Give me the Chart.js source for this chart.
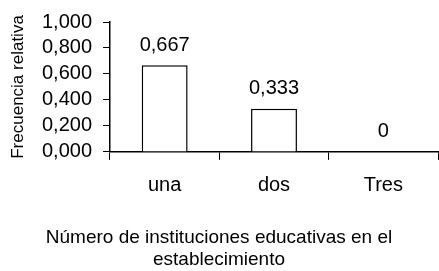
<!DOCTYPE html>
<html>
<head>
<meta charset="utf-8">
<script src="https://cdn.jsdelivr.net/npm/chart.js@4"></script>
<style>
  html, body { margin: 0; padding: 0; background: #fff; }
  #wrap { width: 439px; height: 271px; }
</style>
</head>
<body>
<div id="wrap"><canvas id="chart" width="439" height="271"></canvas></div>
<script>
// chart data
const categories = ["una", "dos", "Tres"];
const relFreq = [0.667, 0.333, 0];
const valueLabels = ["0,667", "0,333", "0"];
const yTicks = [0, 0.2, 0.4, 0.6, 0.8, 1.0];

const FONT = "'Liberation Sans', Arial, sans-serif";

function fmtTick(v) {
    return v.toFixed(3).replace(".", ",");
}

// draw the value above each bar
const valueLabelPlugin = {
    id: "valueLabels",
    afterDatasetsDraw(chart) {
        const ctx = chart.ctx;
        const meta = chart.getDatasetMeta(0);
        ctx.save();
        ctx.font = "20px " + FONT;
        ctx.fillStyle = "#000";
        ctx.textAlign = "center";
        ctx.textBaseline = "middle";
        meta.data.forEach((bar, i) => {
            ctx.fillText(valueLabels[i], bar.x, bar.y - 20);
        });
        ctx.restore();
    }
};

new Chart(document.getElementById("chart").getContext("2d"), {
    type: "bar",
    data: {
        labels: categories,
        datasets: [{
            data: relFreq,
            backgroundColor: "#ffffff",
            borderColor: "#000000",
            borderWidth: 1.5,
            barPercentage: 0.42,
            categoryPercentage: 1.0
        }]
    },
    options: {
        responsive: false,
        animation: false,
        layout: { padding: { top: 22, right: 1, left: 0, bottom: 0 } },
        plugins: {
            legend: { display: false },
            tooltip: { enabled: false },
            title: {
                display: true,
                position: "bottom",
                text: ["Número de instituciones educativas en el", "establecimiento"],
                color: "#000",
                font: { family: FONT, size: 19, weight: "normal", lineHeight: 1.16 },
                padding: { top: 0, bottom: 0 }
            }
        },
        scales: {
            y: {
                min: 0,
                max: 1,
                afterBuildTicks: (scale) => { scale.ticks = yTicks.map(v => ({ value: v })); },
                afterFit: (scale) => { scale.width = 110; },
                ticks: {
                    color: "#000",
                    font: { family: FONT, size: 20, lineHeight: 1 },
                    padding: 11,
                    autoSkip: false,
                    callback: (v) => fmtTick(v)
                },
                grid: { drawOnChartArea: false, drawTicks: true, tickLength: 7, color: "#000" },
                border: { color: "#000", width: 1.5 },
                title: {
                    display: true,
                    text: "Frecuencia relativa",
                    color: "#000",
                    font: { family: FONT, size: 17 },
                    padding: { top: 8, bottom: 0 }
                }
            },
            x: {
                afterFit: (scale) => { scale.height = 75; },
                ticks: {
                    color: "#000",
                    font: { family: FONT, size: 20 },
                    padding: 14
                },
                grid: { drawOnChartArea: false, drawTicks: true, tickLength: 8, color: "#000", offset: true },
                border: { color: "#000", width: 1.5 }
            }
        }
    },
    plugins: [valueLabelPlugin]
});
</script>
</body>
</html>
